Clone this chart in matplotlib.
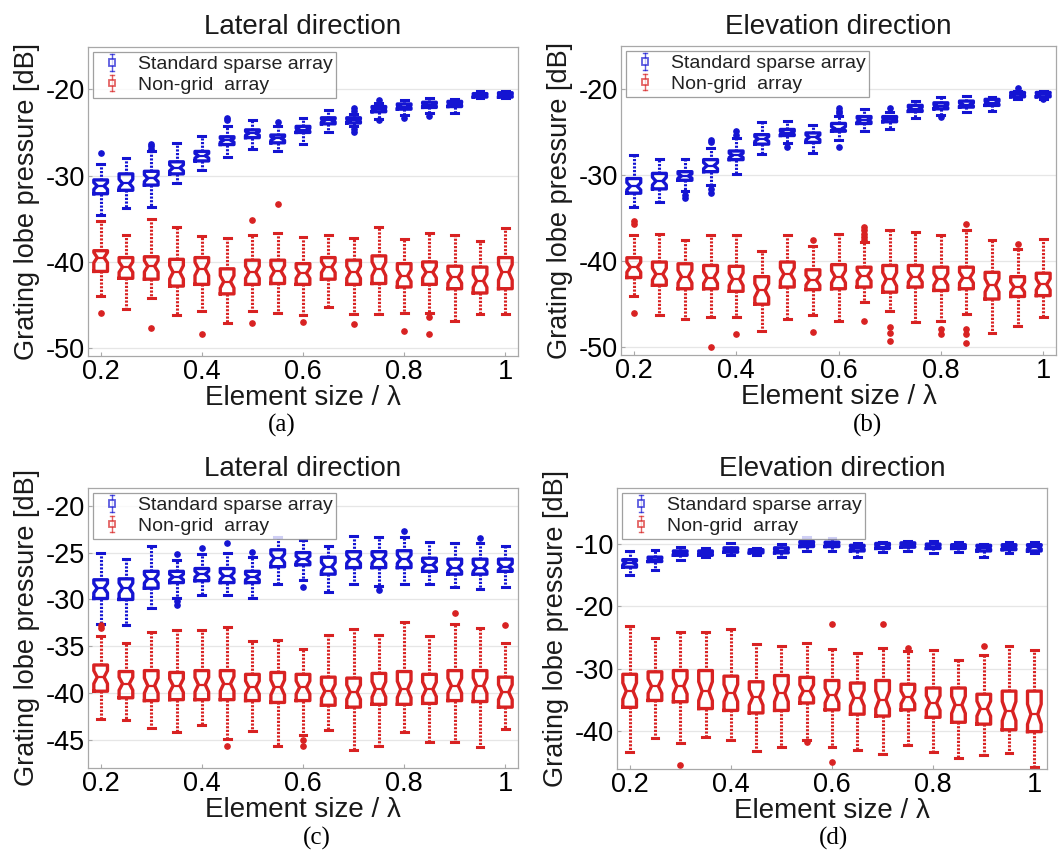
import numpy as np
import matplotlib
matplotlib.use("Agg")
import matplotlib.pyplot as plt
from matplotlib.legend_handler import HandlerBase
from matplotlib.lines import Line2D
from matplotlib.patches import Rectangle

plt.rcParams['font.family'] = ['Liberation Sans', 'DejaVu Sans']
plt.rcParams['axes.unicode_minus'] = False

sizes = [0.2, 0.25, 0.3, 0.35, 0.4, 0.45, 0.5, 0.55, 0.6, 0.65, 0.7, 0.75, 0.8, 0.85, 0.9, 0.95, 1.0]
xtick_vals = [0.2, 0.4, 0.6, 0.8, 1.0]
xtick_labels = ['0.2', '0.4', '0.6', '0.8', '1']
series_names = ['Standard sparse array', 'Non-grid  array']
titles = ['Lateral direction', 'Elevation direction', 'Lateral direction', 'Elevation direction']
panel_tags = ['(a)', '(b)', '(c)', '(d)']

# ---- panel (a) ----
a_std_hi = [-28.6, -28.0, -27.2, -26.2, -25.4, -24.3, -23.6, -24.2, -23.3, -22.4, -22.9, -21.6, -21.2, -21.0, -21.1, -20.2, -20.2]
a_std_q3 = [-30.5, -29.8, -29.5, -28.4, -27.2, -25.5, -24.7, -25.3, -24.3, -23.3, -23.3, -22.0, -21.7, -21.5, -21.4, -20.5, -20.4]
a_std_med = [-31.2, -30.9, -30.3, -29.1, -27.7, -25.9, -25.1, -25.7, -24.7, -23.6, -23.6, -22.3, -22.0, -21.8, -21.7, -20.7, -20.7]
a_std_q1 = [-32.1, -31.7, -31.1, -29.8, -28.3, -26.4, -25.6, -26.2, -25.0, -24.0, -23.9, -22.6, -22.3, -22.1, -22.0, -20.9, -20.9]
a_std_lo = [-34.6, -33.8, -33.6, -30.9, -29.4, -27.8, -26.9, -27.1, -26.3, -25.0, -24.3, -23.4, -23.0, -22.8, -22.8, -21.0, -21.0]
a_std_out = [[-27.4], [], [-26.3, -26.6, -26.9], [], [], [-23.3, -23.6], [], [-23.8], [], [],
             [-22.2, -22.5, -24.6, -24.9], [-21.2, -23.6], [-23.3], [-23.1], [], [], []]

a_ng_hi = [-35.3, -36.9, -35.0, -36.0, -37.0, -37.2, -36.9, -36.7, -37.1, -36.9, -37.2, -36.0, -37.4, -36.6, -36.9, -37.6, -36.1]
a_ng_q3 = [-38.7, -39.5, -39.4, -39.7, -39.5, -40.8, -39.8, -39.8, -40.2, -39.5, -39.8, -39.3, -40.2, -40.0, -40.5, -40.6, -39.5]
a_ng_med = [-39.5, -40.6, -40.5, -41.2, -40.8, -42.3, -41.2, -41.1, -41.3, -40.6, -41.2, -40.8, -41.6, -41.2, -41.8, -42.2, -41.2]
a_ng_q1 = [-41.1, -41.9, -42.0, -42.8, -42.6, -43.7, -42.6, -42.5, -42.6, -42.0, -42.6, -42.5, -42.9, -42.6, -43.1, -43.6, -43.1]
a_ng_lo = [-43.9, -45.5, -44.2, -46.1, -45.7, -47.1, -45.7, -45.9, -46.2, -45.2, -46.0, -46.0, -45.9, -45.9, -46.8, -46.0, -46.0]
a_ng_out = [[-45.9], [], [-47.6], [], [-48.3], [], [-35.2, -47.1], [-33.3], [-47.0], [], [-47.2], [],
            [-48.0], [-46.4, -48.3], [], [], []]

# ---- panel (b) ----
b_std_hi = [-27.7, -28.1, -28.1, -26.8, -25.7, -23.8, -23.7, -24.2, -23.1, -22.3, -22.7, -21.4, -20.9, -20.8, -20.9, -20.2, -20.2]
b_std_q3 = [-30.4, -29.8, -29.6, -28.2, -27.2, -25.3, -24.7, -25.1, -24.0, -23.2, -23.2, -21.9, -21.6, -21.4, -21.2, -20.4, -20.4]
b_std_med = [-31.3, -30.7, -30.1, -28.9, -27.7, -25.8, -25.1, -25.6, -24.6, -23.6, -23.5, -22.3, -22.0, -21.8, -21.6, -20.6, -20.6]
b_std_q1 = [-32.1, -31.6, -30.6, -29.6, -28.2, -26.4, -25.4, -26.2, -24.9, -24.0, -23.8, -22.6, -22.3, -22.1, -21.9, -20.9, -20.9]
b_std_lo = [-33.7, -33.1, -31.9, -31.2, -29.9, -27.5, -26.3, -27.4, -25.9, -24.9, -24.6, -23.4, -23.0, -22.7, -22.5, -21.1, -21.1]
b_std_out = [[], [], [-32.3, -32.7], [-25.9, -26.2, -31.6, -32.1], [-24.9, -25.3], [], [-26.7], [],
             [-22.2, -22.5, -22.8, -26.7], [], [-22.2], [], [-23.3], [], [], [-19.9], [-21.2]]

b_ng_hi = [-37.0, -36.8, -37.5, -37.0, -37.0, -38.8, -37.0, -38.2, -36.8, -37.8, -36.4, -36.6, -37.0, -36.4, -37.5, -38.6, -37.4]
b_ng_q3 = [-39.6, -40.1, -40.3, -40.5, -40.6, -41.8, -40.1, -41.0, -40.4, -40.7, -40.5, -40.5, -40.7, -40.7, -41.3, -41.8, -41.4]
b_ng_med = [-40.7, -41.5, -41.8, -41.9, -42.1, -43.4, -41.5, -42.2, -41.8, -41.7, -42.1, -41.8, -42.1, -41.9, -42.8, -43.0, -42.7]
b_ng_q1 = [-41.9, -42.8, -43.2, -43.2, -43.5, -45.0, -43.0, -43.3, -43.2, -43.0, -43.6, -43.0, -43.4, -43.2, -44.4, -44.1, -44.0]
b_ng_lo = [-44.1, -46.3, -46.7, -46.5, -46.5, -48.1, -46.7, -46.2, -46.9, -44.8, -45.8, -47.1, -46.9, -46.1, -48.4, -47.5, -46.5]
b_ng_out = [[-35.3, -35.7, -46.0], [], [], [-50.0], [-48.5], [], [], [-37.5, -48.2], [],
            [-36.0, -36.4, -36.8, -37.2, -37.5, -46.9], [-47.7, -48.4, -49.3], [], [-47.9, -48.5],
            [-35.7, -47.9, -48.5, -49.5], [], [-38.0], []]

# ---- panel (c) ----
c_std_hi = [-25.0, -25.7, -24.3, -25.8, -25.1, -25.0, -25.5, -23.3, -23.7, -24.3, -23.2, -23.3, -23.3, -23.9, -24.0, -24.0, -24.3]
c_std_q3 = [-27.9, -27.8, -27.0, -27.0, -26.7, -26.7, -27.0, -24.7, -25.0, -25.5, -24.9, -24.9, -24.8, -25.6, -25.7, -25.7, -25.7]
c_std_med = [-28.8, -28.8, -27.8, -27.6, -27.3, -27.5, -27.6, -25.6, -25.7, -26.5, -25.7, -25.7, -25.7, -26.3, -26.6, -26.6, -26.5]
c_std_q1 = [-29.9, -30.0, -28.8, -28.2, -28.0, -28.2, -28.2, -26.5, -26.3, -27.3, -26.6, -26.6, -26.6, -27.0, -27.3, -27.3, -27.0]
c_std_lo = [-32.6, -32.7, -30.9, -29.8, -29.5, -29.5, -29.8, -28.4, -27.9, -29.2, -28.4, -28.6, -28.3, -28.4, -28.7, -28.9, -28.7]
c_std_out = [[], [], [], [-25.2, -30.2, -30.6], [-24.5], [-24.0], [-24.9], [], [-28.7], [], [], [-29.0],
             [-22.7], [], [], [-23.4], []]

c_ng_hi = [-33.9, -34.6, -33.5, -33.3, -33.3, -32.9, -34.4, -34.3, -35.3, -33.8, -33.2, -33.8, -32.4, -33.9, -32.6, -33.0, -34.6]
c_ng_q3 = [-37.0, -37.7, -37.6, -37.8, -37.6, -37.6, -38.0, -37.8, -38.0, -38.3, -38.4, -37.9, -37.7, -38.0, -37.6, -37.6, -38.3]
c_ng_med = [-38.3, -39.0, -39.2, -39.2, -39.1, -39.0, -39.4, -39.4, -39.4, -39.8, -39.9, -39.6, -39.6, -39.6, -39.2, -39.2, -39.9]
c_ng_q1 = [-39.8, -40.5, -40.8, -40.7, -40.7, -40.7, -40.8, -41.0, -40.8, -41.3, -41.5, -41.2, -41.2, -41.1, -40.8, -40.9, -41.5]
c_ng_lo = [-42.8, -42.9, -43.7, -44.2, -43.4, -44.9, -44.0, -45.6, -44.5, -43.9, -46.1, -45.7, -44.2, -45.2, -45.2, -45.8, -43.8]
c_ng_out = [[-32.7, -33.1], [], [], [], [], [-45.6], [], [], [-45.0, -45.7], [], [], [], [], [], [-31.5], [], [-32.7]]

# ---- panel (d) ----
d_std_hi = [-11.1, -10.9, -10.4, -10.7, -9.8, -10.7, -10.0, -8.9, -9.0, -9.8, -9.6, -9.5, -9.5, -9.6, -10.0, -9.7, -9.6]
d_std_q3 = [-12.5, -12.1, -11.1, -11.1, -10.6, -10.9, -10.6, -9.6, -9.7, -10.2, -9.9, -9.8, -10.0, -10.1, -10.2, -10.1, -10.1]
d_std_med = [-13.0, -12.5, -11.4, -11.4, -11.0, -11.2, -11.1, -10.0, -10.0, -10.6, -10.4, -10.2, -10.4, -10.4, -10.6, -10.5, -10.5]
d_std_q1 = [-13.7, -12.8, -11.8, -11.8, -11.3, -11.4, -11.4, -10.4, -10.4, -11.1, -10.7, -10.5, -10.7, -10.7, -11.1, -10.9, -11.1]
d_std_lo = [-14.9, -14.1, -12.5, -12.1, -11.8, -11.7, -12.0, -11.1, -11.1, -12.0, -11.2, -11.1, -11.4, -11.2, -12.0, -11.4, -11.4]
d_std_out = [[] for _ in range(17)]

d_ng_hi = [-23.2, -25.0, -24.1, -24.1, -23.6, -26.1, -26.4, -25.9, -26.8, -27.5, -26.6, -27.1, -27.0, -28.6, -27.8, -26.3, -27.0]
d_ng_q3 = [-30.9, -30.5, -30.3, -30.3, -31.2, -32.1, -31.1, -31.4, -31.9, -32.3, -31.9, -32.5, -33.1, -33.1, -34.1, -33.6, -33.6]
d_ng_med = [-33.6, -32.8, -32.8, -33.6, -33.9, -34.6, -33.9, -33.6, -34.3, -34.7, -35.0, -34.6, -35.5, -35.8, -36.4, -36.8, -37.3]
d_ng_q1 = [-36.2, -35.1, -35.3, -36.4, -36.7, -37.1, -36.7, -35.5, -36.6, -37.3, -37.6, -36.6, -37.8, -38.6, -38.9, -39.8, -40.1]
d_ng_lo = [-43.3, -41.1, -41.9, -41.0, -41.4, -43.2, -42.6, -41.4, -42.6, -43.0, -43.7, -42.3, -43.3, -44.3, -43.8, -43.5, -45.8]
d_ng_out = [[], [], [-45.5], [], [], [], [], [-41.8], [-22.8, -45.0], [], [-22.9], [-26.7], [], [], [-26.4], [], []]

N_SAMPLES = 40  # for notch size (1.57*IQR/sqrt(n), as MATLAB does)

BLUE = '#1414d2'
RED = '#d82222'

panels = [
    dict(std=(a_std_hi, a_std_q3, a_std_med, a_std_q1, a_std_lo, a_std_out),
         ng=(a_ng_hi, a_ng_q3, a_ng_med, a_ng_q1, a_ng_lo, a_ng_out),
         ylim=(-50.9, -15.1), yticks=[-50, -40, -30, -20],
         pos=(88, 47, 518, 356), tag=(282, 425)),
    dict(std=(b_std_hi, b_std_q3, b_std_med, b_std_q1, b_std_lo, b_std_out),
         ng=(b_ng_hi, b_ng_q3, b_ng_med, b_ng_q1, b_ng_lo, b_ng_out),
         ylim=(-50.9, -15.0), yticks=[-50, -40, -30, -20],
         pos=(621, 46, 1056, 355), tag=(867, 425)),
    dict(std=(c_std_hi, c_std_q3, c_std_med, c_std_q1, c_std_lo, c_std_out),
         ng=(c_ng_hi, c_ng_q3, c_ng_med, c_ng_q1, c_ng_lo, c_ng_out),
         ylim=(-48.0, -18.1), yticks=[-45, -40, -35, -30, -25, -20],
         pos=(88, 488, 518, 768), tag=(317, 838)),
    dict(std=(d_std_hi, d_std_q3, d_std_med, d_std_q1, d_std_lo, d_std_out),
         ng=(d_ng_hi, d_ng_q3, d_ng_med, d_ng_q1, d_ng_lo, d_ng_out),
         ylim=(-46.1, -1.0), yticks=[-40, -30, -20, -10],
         pos=(617, 488, 1047, 769), tag=(833, 838)),
]


def make_stats(hi, q3, med, q1, lo, out):
    stats = []
    for h, t, m, b, l, o in zip(hi, q3, med, q1, lo, out):
        half = 1.57 * (t - b) / np.sqrt(N_SAMPLES)
        stats.append(dict(med=m, q1=b, q3=t, whislo=l, whishi=h,
                          cilo=m - half, cihi=m + half, fliers=o))
    return stats


def draw_boxes(ax, stats, color):
    ax.bxp(stats, positions=sizes, widths=0.027, shownotches=True,
           manage_ticks=False,
           boxprops=dict(color=color, linewidth=2.4, solid_joinstyle='round'),
           medianprops=dict(color=color, linewidth=1.6),
           whiskerprops=dict(color=color, linewidth=2.2, linestyle=(0, (0.7, 0.5))),
           capprops=dict(color=color, linewidth=2.2),
           flierprops=dict(marker='o', markerfacecolor=color, markeredgecolor=color,
                           markersize=3.8, linestyle='none'))


class BoxGlyph(HandlerBase):
    def create_artists(self, legend, orig_handle, xdescent, ydescent,
                       width, height, fontsize, trans):
        color = orig_handle.get_color()
        cx = width / 2 - xdescent
        cy = height / 2 - ydescent
        bw = height * 0.45
        whisk = Line2D([cx, cx], [cy - height * 0.6, cy + height * 0.6],
                       color=color, lw=1.0, alpha=0.7, transform=trans)
        caps = Line2D([cx - bw * 0.3, cx + bw * 0.3, np.nan, cx - bw * 0.3, cx + bw * 0.3],
                      [cy + height * 0.6, cy + height * 0.6, np.nan,
                       cy - height * 0.6, cy - height * 0.6],
                      color=color, lw=1.0, alpha=0.7, transform=trans)
        box = Rectangle((cx - bw / 2, cy - height * 0.25), bw, height * 0.5,
                        facecolor='white', edgecolor=color, lw=1.3, alpha=0.7,
                        transform=trans)
        return [whisk, caps, box]


W, H = 1059, 852
fig = plt.figure(figsize=(W / 100, H / 100), dpi=100)

for i, p in enumerate(panels):
    x0, y0, x1, y1 = p['pos']
    ax = fig.add_axes([x0 / W, 1 - y1 / H, (x1 - x0) / W, (y1 - y0) / H])
    ax.yaxis.grid(True, color='#e6e6e6', linewidth=0.9)
    ax.set_axisbelow(True)
    draw_boxes(ax, make_stats(*p['std']), BLUE)
    draw_boxes(ax, make_stats(*p['ng']), RED)

    ax.set_xlim(0.175, 1.025)
    ax.set_ylim(*p['ylim'])
    ax.set_xticks(xtick_vals)
    ax.set_xticklabels(xtick_labels)
    ax.set_yticks(p['yticks'])
    ax.tick_params(axis='both', direction='in', length=3, color='#aaaaaa',
                   labelsize=19.5, pad=2)
    for s in ax.spines.values():
        s.set_color('#a8a8a8')
        s.set_linewidth(0.9)

    ax.set_title(titles[i], fontsize=20, pad=9, color='#1a1a1a')
    ax.set_xlabel('Element size / λ', fontsize=20, labelpad=0, color='#1a1a1a')
    ax.set_ylabel('Grating lobe pressure [dB]', fontsize=19.5, labelpad=4, color='#1a1a1a')

    h_std = Line2D([], [], color=BLUE)
    h_ng = Line2D([], [], color=RED)
    leg = ax.legend([h_std, h_ng], series_names, loc='upper left',
                    handler_map={Line2D: BoxGlyph()}, fontsize=14,
                    frameon=True, fancybox=False, edgecolor='#888888',
                    borderaxespad=0.25, borderpad=0.2, labelspacing=0.15,
                    handlelength=1.6, handletextpad=0.5, labelcolor='#222222')
    leg.get_frame().set_linewidth(0.9)

    tx, ty = p['tag']
    fig.text(tx / W, 1 - ty / H, panel_tags[i], ha='center', va='center',
             fontsize=18, family=['Liberation Serif', 'DejaVu Serif'])

fig.savefig('out.png', dpi=100)
